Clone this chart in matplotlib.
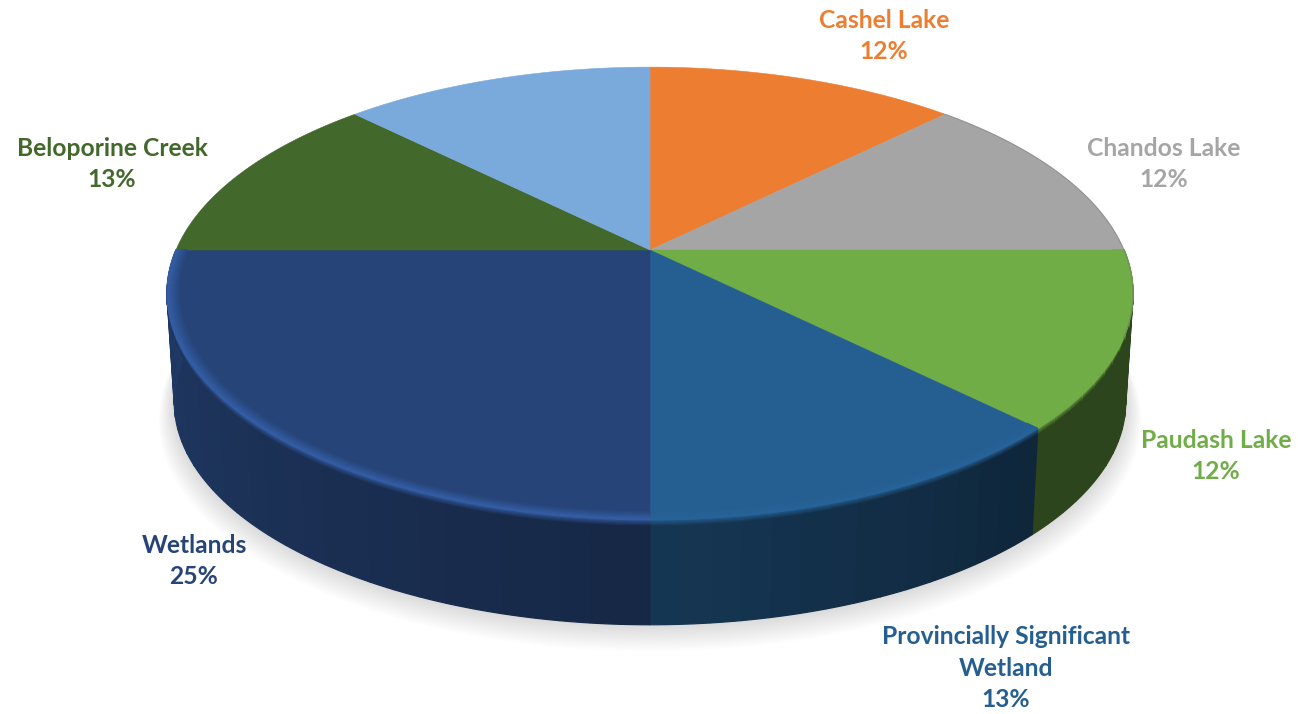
import numpy as np
import matplotlib
matplotlib.use('Agg')
import matplotlib.pyplot as plt

# slices, clockwise from 12 o'clock
names = ['Cashel Lake', 'Chandos Lake', 'Paudash Lake', 'Provincially Significant\nWetland',
         'Wetlands', 'Beloporine Creek', '']
shares = [12.5, 12.5, 12.5, 12.5, 25, 12.5, 12.5]
pct_labels = ['12%', '12%', '12%', '13%', '25%', '13%', '']
colors = ['#ed7d31', '#a5a5a5', '#70ad47', '#255e91', '#264478', '#43682b', '#7aaadb']
text_colors = ['#ed7d31', '#a5a5a5', '#70ad47', '#255e91', '#264478', '#43682b', '#7aaadb']
label_pos = [(884, 36), (1164, 164), (1216, 456), (1006, 668), (194, 561), (112, 164), None]
rim_gain = [1, 1, 1.0, 1.05, 1.35, 1, 1]

# perspective of the disc
CX, CY = 650, 250
A, B, K = 218, 474, 0.192
DROP, SHRINK = 109, 0.015


def project(theta, r=1.0, z=0.0):
    t = np.radians(theta)
    x = r * np.cos(t)
    y = r * np.sin(t)
    w = 1 + K * y
    s = 1 - SHRINK * z
    return CX + B * x / w * s, CY - A * y / w * s + DROP * z


def shade(color, f):
    rgb = np.array(matplotlib.colors.to_rgb(color)) * f
    return tuple(np.clip(rgb, 0, 1))


def band(ax, t0, t1, r0, z0, r1, z1, color, zorder=2):
    th = np.linspace(t0, t1, 8)
    xa, ya = project(th, r0, z0)
    xb, yb = project(th[::-1], r1, z1)
    ax.fill(np.r_[xa, xb], np.r_[ya, yb], color=color, lw=0.9, zorder=zorder)


fig = plt.figure(figsize=(12.98, 7.14), dpi=100)
ax = fig.add_axes([0, 0, 1, 1])
ax.set_xlim(0, 1298)
ax.set_ylim(714, 0)
ax.axis('off')

# soft shadow under the disc
th = np.linspace(0, 360, 240)
for i in range(12):
    sx, sy = project(th, 1.0 + 0.0028 * (12 - i), 1.0 + 0.012 * (12 - i))
    ax.fill(sx, sy, color='black', alpha=0.011, lw=0, zorder=1)

edges = 90 - np.cumsum([0] + shares) * 3.6

# side wall
for i in range(len(shares)):
    hi, lo = edges[i], edges[i + 1]
    hi = min(hi, 0)
    lo = max(lo, -180)
    if hi <= lo:
        continue
    steps = np.linspace(hi, lo, max(2, int((hi - lo) / 3)) + 1)
    for t0, t1 in zip(steps[:-1], steps[1:]):
        tm = (t0 + t1) / 2
        f = np.interp(tm, [-180, -90, -45, 0], [0.85, 0.58, 0.4, 0.4])
        band(ax, t0, t1, 1.0, 0.0, 1.0, 1.0, shade(colors[i], f))
        # bevel: highlight fades down into the wall and in to the face
        for j in range(6):
            g = rim_gain[i] + (f - rim_gain[i]) * (j + 1) / 6
            band(ax, t0, t1, 1.0, 0.012 * j, 1.0, 0.012 * (j + 1), shade(colors[i], g), zorder=3)

# top face
for i in range(len(shares)):
    th = np.linspace(edges[i], edges[i + 1], 60)
    x, y = project(th)
    ax.fill(np.r_[CX, x], np.r_[CY, y], color=colors[i], lw=0.4, zorder=4)
    hi, lo = min(edges[i], 0), max(edges[i + 1], -180)
    if hi > lo:
        steps = np.linspace(hi, lo, max(2, int((hi - lo) / 3)) + 1)
        for t0, t1 in zip(steps[:-1], steps[1:]):
            for j in range(6):
                g = 1 + (rim_gain[i] - 1) * (j + 1) / 6
                band(ax, t0, t1, 0.976 + 0.004 * j, 0, 0.976 + 0.004 * (j + 1), 0,
                     shade(colors[i], g), zorder=5)

# thin dark edge along the back right
x, y = project(np.linspace(45, -22, 60))
ax.plot(x, y, color='#6e6e6e', lw=0.8, alpha=0.45, zorder=6)

for name, pct, col, pos in zip(names, pct_labels, text_colors, label_pos):
    if pos is None:
        continue
    ax.text(pos[0], pos[1], name + '\n' + pct, color=col, ha='center', va='center',
            family='Lato', fontweight='bold', fontsize=17.7, linespacing=1.46, zorder=7)

fig.savefig('out.png', dpi=100)
